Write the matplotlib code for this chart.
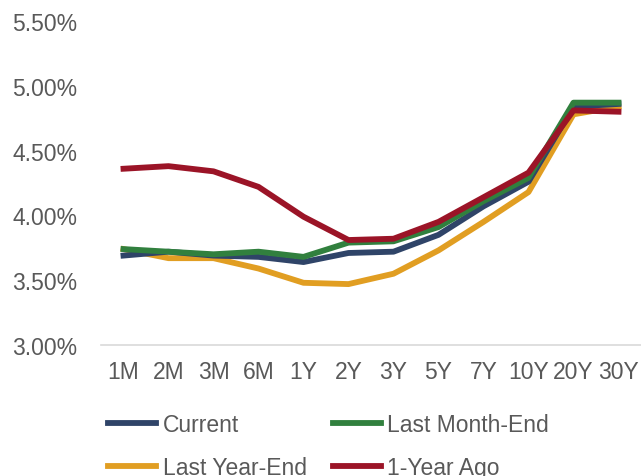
import matplotlib
matplotlib.use('Agg')
import matplotlib.pyplot as plt
from matplotlib.ticker import FuncFormatter

plt.rcParams['font.family'] = ['Liberation Sans', 'DejaVu Sans']

tenors = ['1M', '2M', '3M', '6M', '1Y', '2Y', '3Y', '5Y', '7Y', '10Y', '20Y', '30Y']
current = [3.69, 3.72, 3.69, 3.68, 3.64, 3.71, 3.72, 3.85, 4.07, 4.26, 4.84, 4.86]
last_month_end = [3.74, 3.72, 3.70, 3.72, 3.68, 3.79, 3.80, 3.91, 4.11, 4.29, 4.87, 4.87]
last_year_end = [3.74, 3.67, 3.67, 3.59, 3.48, 3.47, 3.55, 3.73, 3.95, 4.18, 4.78, 4.84]
year_ago = [4.36, 4.38, 4.34, 4.22, 3.99, 3.81, 3.82, 3.95, 4.14, 4.33, 4.81, 4.80]

navy = '#2F4468'
green = '#31803E'
gold = '#E19E22'
maroon = '#9B1427'
grey = '#595959'

fig = plt.figure(figsize=(6.41, 4.77), dpi=100)
ax = fig.add_axes([101 / 641, 1 - 346 / 477, 540 / 641, 324 / 477])

x = range(len(tenors))
lines = {}
# draw order: gold at the back, maroon on top
for vals, col, lab in [(last_year_end, gold, 'Last Year-End'),
                       (current, navy, 'Current'),
                       (last_month_end, green, 'Last Month-End'),
                       (year_ago, maroon, '1-Year Ago')]:
    line, = ax.plot(x, vals, color=col, lw=4.2, label=lab)
    lines[lab] = line

# legend fills column-wise, so this gives rows
# (Current, Last Month-End) / (Last Year-End, 1-Year Ago)
handles = [lines['Current'], lines['Last Year-End'],
           lines['Last Month-End'], lines['1-Year Ago']]

ax.set_xlim(-0.5, len(tenors) - 0.5)
ax.set_ylim(3.0, 5.5)
ax.set_yticks([3.0, 3.5, 4.0, 4.5, 5.0, 5.5])
ax.yaxis.set_major_formatter(FuncFormatter(lambda v, p: '{:.2f}%'.format(v)))
ax.set_xticks(list(x))
ax.set_xticklabels(tenors)

for side in ['top', 'right', 'left']:
    ax.spines[side].set_visible(False)
ax.spines['bottom'].set_color('#D9D9D9')
ax.spines['bottom'].set_linewidth(1.2)
ax.tick_params(axis='both', length=0, labelsize=16.5, colors=grey)
ax.tick_params(axis='y', pad=17)
ax.tick_params(axis='x', pad=11)

fig.legend(handles=handles, ncol=2, loc='upper left',
           bbox_to_anchor=(108 / 641, 1 - 414 / 477), frameon=False,
           fontsize=16.5, labelcolor=grey, handlelength=2.1, handletextpad=0.28,
           columnspacing=1.15, labelspacing=0.86, borderaxespad=0,
           borderpad=0)

fig.savefig('out.png', dpi=100)
